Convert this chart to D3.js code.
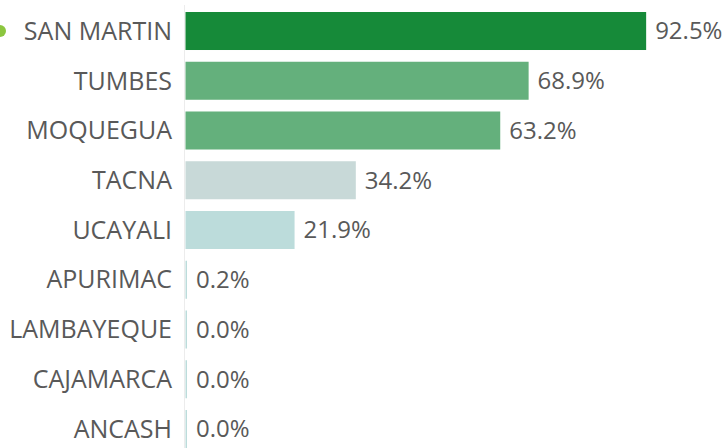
<!DOCTYPE html>
<html>
<head>
<meta charset="utf-8">
<script src="https://cdn.jsdelivr.net/npm/d3@7"></script>
<style>
  html, body { margin: 0; padding: 0; background: #fff; }
  svg text { font-family: "Open Sans", sans-serif; }
</style>
</head>
<body>
<div id="chart"></div>
<script>
// data
const regions = ["SAN MARTIN", "TUMBES", "MOQUEGUA", "TACNA", "UCAYALI", "APURIMAC", "LAMBAYEQUE", "CAJAMARCA", "ANCASH"];
const values = [92.5, 68.9, 63.2, 34.2, 21.9, 0.2, 0.0, 0.0, 0.0];
const barColors = ["#168a39", "#64b07c", "#64b07c", "#c8d9d8", "#bcdcdb", "#bcdcdb", "#bcdcdb", "#bcdcdb", "#bcdcdb"];

const width = 727, height = 448;

const svg = d3.select("#chart").append("svg")
    .attr("width", width)
    .attr("height", height);

const x = d3.scaleLinear().domain([0, 100]).range([185.5, 683.5]);
const y = d3.scaleBand().domain(regions).range([12, 448]).paddingInner(0.236).paddingOuter(0);

// light axis line
svg.append("line")
    .attr("x1", 184.5).attr("x2", 184.5)
    .attr("y1", 5).attr("y2", height)
    .attr("stroke", "#ececec");

// bars
svg.selectAll(".bar")
    .data(regions)
    .enter().append("rect")
    .attr("class", "bar")
    .attr("x", x(0))
    .attr("y", d => y(d))
    .attr("height", y.bandwidth())
    .attr("width", (d, i) => Math.max(1.5, x(values[i]) - x(0)))
    .attr("fill", (d, i) => barColors[i]);

// category labels
svg.selectAll(".cat")
    .data(regions)
    .enter().append("text")
    .attr("class", "cat")
    .attr("x", 172)
    .attr("y", d => y(d) + y.bandwidth() / 2)
    .attr("dy", "0.35em")
    .attr("text-anchor", "end")
    .attr("font-size", 25)
    .attr("fill", "#595959")
    .text(d => d);

// value labels
svg.selectAll(".val")
    .data(regions)
    .enter().append("text")
    .attr("class", "val")
    .attr("x", (d, i) => Math.max(x(values[i]), x(0) + 1.5) + 9)
    .attr("y", d => y(d) + y.bandwidth() / 2)
    .attr("dy", "0.35em")
    .attr("font-size", 24)
    .attr("fill", "#595959")
    .text((d, i) => values[i].toFixed(1) + "%");

// selection marker next to first category
svg.append("circle")
    .attr("cx", 0)
    .attr("cy", y(regions[0]) + y.bandwidth() / 2)
    .attr("r", 6)
    .attr("fill", "#8cc63f");
</script>
</body>
</html>
